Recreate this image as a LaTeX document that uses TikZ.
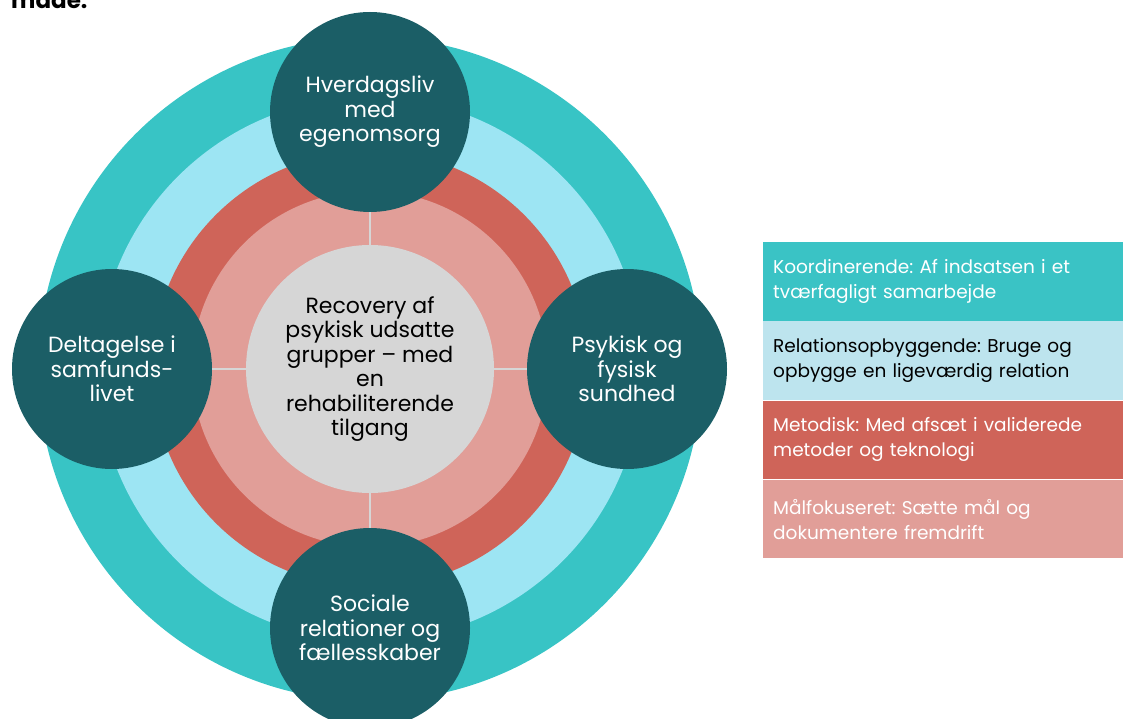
\documentclass[tikz,border=0pt]{standalone}
\usepackage{fontspec}
\setmainfont{Poppins}
\frenchspacing
\definecolor{ringteal}{HTML}{38C4C5}
\definecolor{ringblue}{HTML}{9DE5F3}
\definecolor{ringred}{HTML}{CF6459}
\definecolor{ringpink}{HTML}{E19E98}
\definecolor{coregrey}{HTML}{D6D6D6}
\definecolor{darkteal}{HTML}{1B5E66}
\definecolor{legteal}{HTML}{3AC3C5}
\definecolor{legblue}{HTML}{BDE4EE}
\definecolor{legred}{HTML}{CF6459}
\definecolor{legpink}{HTML}{E19E98}
\begin{document}
\begin{tikzpicture}[x=1pt,y=-1pt,
  bigtxt/.style={font=\fontsize{22}{24.5}\selectfont},
  smalltxt/.style={font=\fontsize{18.5}{25}\selectfont},
  theme/.style={circle, fill=darkteal, text=white, minimum size=200pt, inner sep=0pt, align=center, bigtxt},
  core/.style={circle, fill=coregrey, text=black, minimum size=248pt, inner sep=0pt, align=center, bigtxt},
  sep/.style={draw=coregrey, line width=1.5pt},
  legbox/.style={anchor=north west, minimum width=360pt, minimum height=78.75pt, text width=345pt, inner xsep=10pt, align=left, smalltxt}]
\useasboundingbox (0,0) rectangle (1123,719);
\clip (0,0) rectangle (1123,719);
% partially visible heading
\node[anchor=base west, font=\fontsize{23}{26}\selectfont\bfseries, inner sep=0pt] (head) at (11,9) {made.};
% rings
\fill[ringteal] (370,369) circle[radius=332pt];
\fill[ringblue] (370,369) circle[radius=272pt];
\fill[ringred]  (370,369) circle[radius=218pt];
\fill[ringpink] (370,369) circle[radius=178pt];
% core and themes
\node[core] (c) at (370,369) {Recovery af\\psykisk udsatte\\grupper -- med\\en\\rehabiliterende\\tilgang};
\node[theme] (t) at (370,112) {Hverdagsliv\\med\\egenomsorg};
\node[theme] (l) at (112,369) {Deltagelse i\\samfunds-\\livet};
\node[theme] (r) at (627,369) {Psykisk og\\fysisk\\sundhed};
\node[theme] (b) at (370,628) {Sociale\\relationer og\\fællesskaber};
\draw[sep] (c) -- (t);
\draw[sep] (c) -- (l);
\draw[sep] (c) -- (r);
\draw[sep] (c) -- (b);
% legend
\node[legbox, fill=legteal, text=white] (k1) at (763,242) {Koordinerende: Af indsatsen i et\\tværfagligt samarbejde};
\node[legbox, fill=legblue, text=black] (k2) at (k1.south west) {Relationsopbyggende: Bruge og\\opbygge en ligeværdig relation};
\node[legbox, fill=legred, text=white] (k3) at (k2.south west) {Metodisk: Med afsæt i validerede\\metoder og teknologi};
\node[legbox, fill=legpink, text=white] (k4) at (k3.south west) {Målfokuseret: Sætte mål og\\dokumentere fremdrift};
\end{tikzpicture}
\end{document}
